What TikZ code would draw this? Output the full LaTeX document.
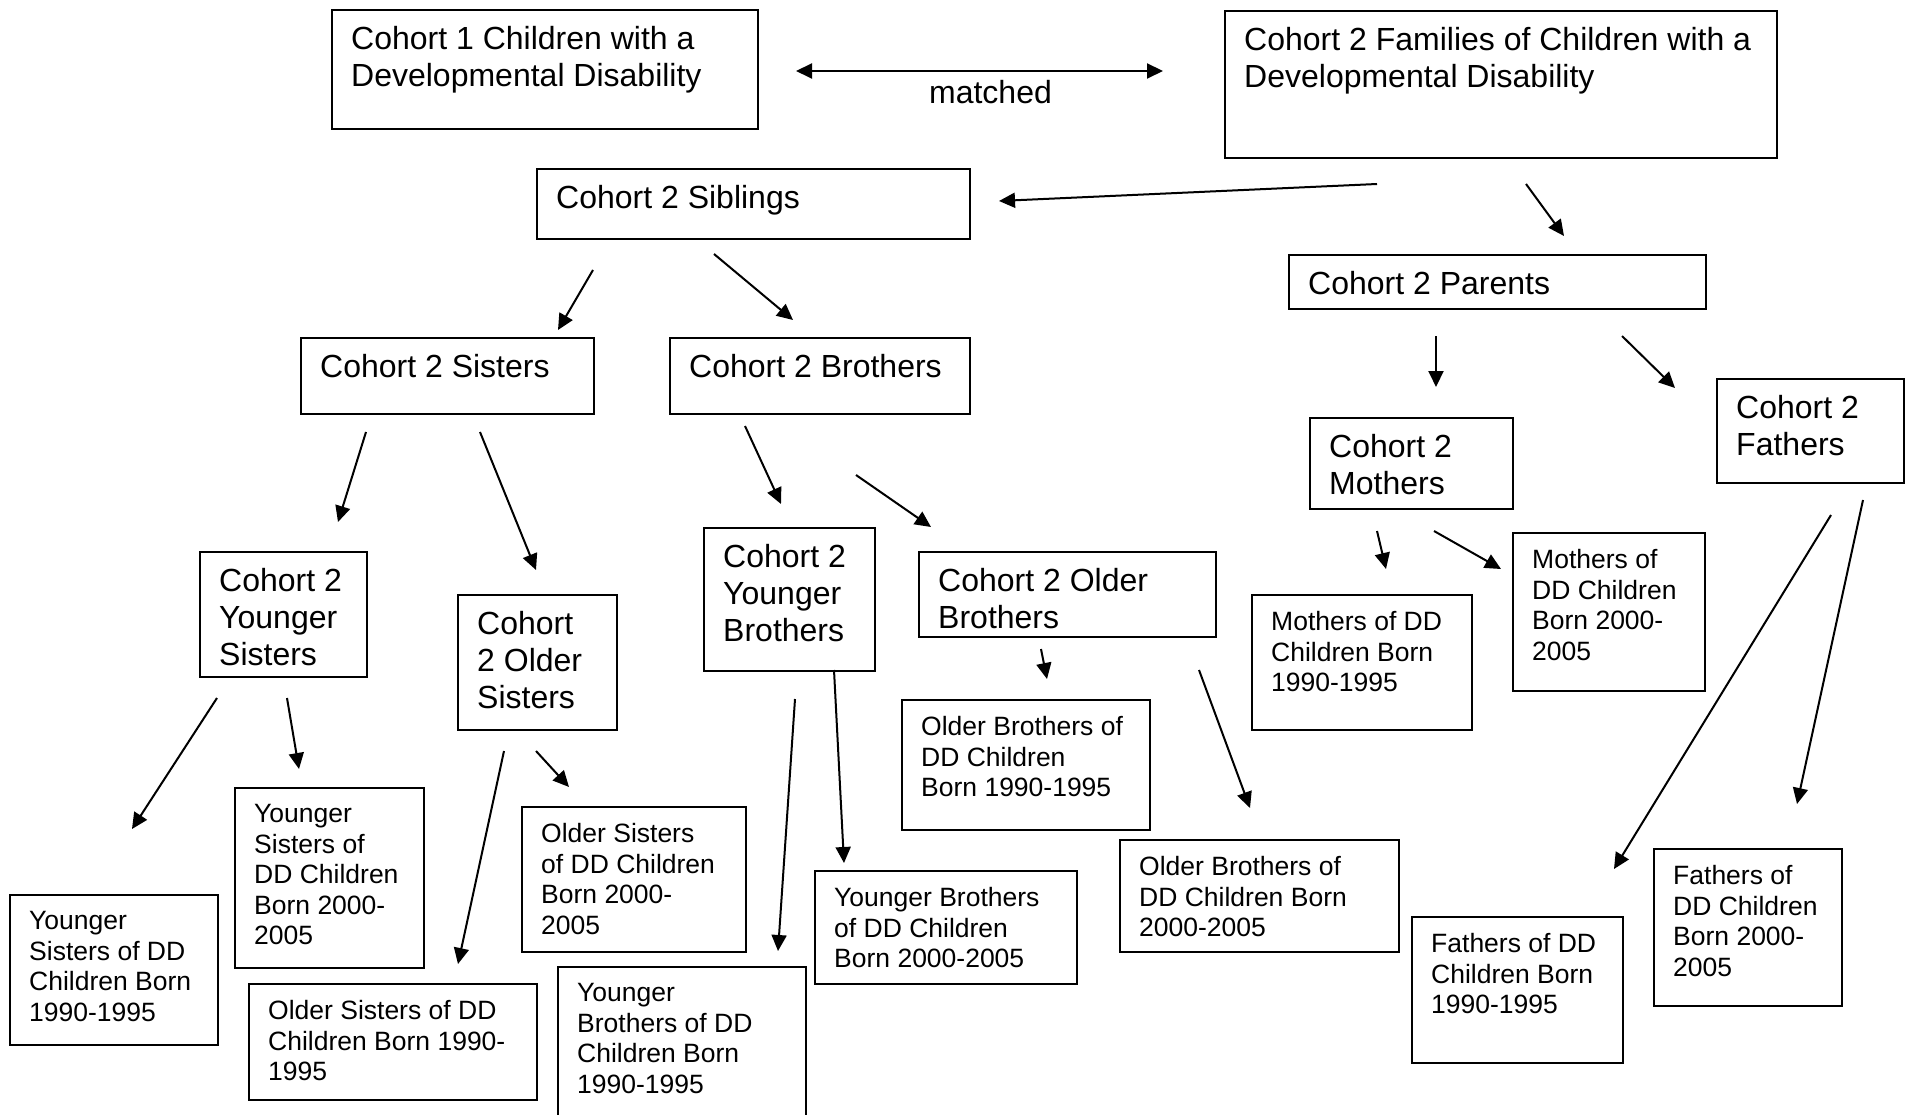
\documentclass[tikz,border=0pt]{standalone}
\usepackage{fontspec}
\setmainfont{Liberation Sans}
\usetikzlibrary{arrows.meta}
\newcommand\boxfont{\fontsize{32}{36.8}\selectfont}
\newcommand\leaffont{\fontsize{26.5}{30.5}\selectfont}
\tikzset{
  cbox/.style={draw, line width=2pt, anchor=north west, inner sep=0pt},
  ctext/.style={anchor=north west, align=left, inner xsep=20pt, inner ysep=17.5pt, font=\boxfont},
  ltext/.style={ctext, font=\leaffont},
  arr/.style={line width=2pt, -{Triangle[length=16pt,width=15pt]}},
}

\begin{document}
\begin{tikzpicture}[x=1pt,y=-1pt]
  \useasboundingbox (0,0) rectangle (1914,1115);

  % top: the two cohorts
  \node[cbox, minimum width=426, minimum height=119, label={[ctext]north west:Cohort 1 Children with a\\Developmental Disability}] (coh1) at (331,9) {};
  \node[cbox, minimum width=552, minimum height=147, label={[ctext]north west:Cohort 2 Families of Children with a\\Developmental Disability}] (fam) at (1224,10) {};
  \coordinate (matchL) at (796,71);
  \coordinate (matchR) at (1163,71);
  \draw[line width=2pt, {Triangle[length=16pt,width=15pt]}-{Triangle[length=16pt,width=15pt]}] (matchL) -- node[below, xshift=11pt, inner sep=8pt, font=\boxfont] (matched) {matched} (matchR);

  % second row
  \node[cbox, minimum width=433, minimum height=70, label={[ctext]north west:Cohort 2 Siblings}] (sib) at (536,168) {};
  \node[cbox, minimum width=417, minimum height=54, label={[ctext]north west:Cohort 2 Parents}] (par) at (1288,254) {};

  % third row
  \node[cbox, minimum width=293, minimum height=76, label={[ctext]north west:Cohort 2 Sisters}] (sis) at (300,337) {};
  \node[cbox, minimum width=300, minimum height=76, label={[ctext]north west:Cohort 2 Brothers}] (bro) at (669,337) {};
  \node[cbox, minimum width=203, minimum height=91, label={[ctext]north west:Cohort 2\\Mothers}] (mot) at (1309,417) {};
  \node[cbox, minimum width=187, minimum height=104, label={[ctext]north west:Cohort 2\\Fathers}] (fat) at (1716,378) {};

  % fourth row
  \node[cbox, minimum width=167, minimum height=125, label={[ctext]north west:Cohort 2\\Younger\\Sisters}] (ysis) at (199,551) {};
  \node[cbox, minimum width=159, minimum height=135, label={[ctext]north west:Cohort\\2 Older\\Sisters}] (osis) at (457,594) {};
  \node[cbox, minimum width=171, minimum height=143, label={[ctext]north west:Cohort 2\\Younger\\Brothers}] (ybro) at (703,527) {};
  \node[cbox, minimum width=297, minimum height=85, label={[ctext]north west:Cohort 2 Older\\Brothers}] (obro) at (918,551) {};

  % leaves by birth years
  \node[cbox, minimum width=208, minimum height=150, label={[ltext]north west:Younger\\Sisters of DD\\Children Born\\1990-1995}] (ysisA) at (9,894) {};
  \node[cbox, minimum width=189, minimum height=180, label={[ltext]north west:Younger\\Sisters of\\DD Children\\Born 2000-\\2005}] (ysisB) at (234,787) {};
  \node[cbox, minimum width=288, minimum height=116, label={[ltext]north west:Older Sisters of DD\\Children Born 1990-\\1995}] (osisA) at (248,983) {};
  \node[cbox, minimum width=224, minimum height=145, label={[ltext]north west:Older Sisters\\of DD Children\\Born 2000-\\2005}] (osisB) at (521,806) {};
  \node[cbox, minimum width=248, minimum height=200, label={[ltext]north west:Younger\\Brothers of DD\\Children Born\\1990-1995}] (ybroA) at (557,966) {};
  \node[cbox, minimum width=262, minimum height=113, label={[ltext]north west:Younger Brothers\\of DD Children\\Born 2000-2005}] (ybroB) at (814,870) {};
  \node[cbox, minimum width=248, minimum height=130, label={[ltext]north west:Older Brothers of\\DD Children\\Born 1990-1995}] (obroA) at (901,699) {};
  \node[cbox, minimum width=279, minimum height=112, label={[ltext]north west:Older Brothers of\\DD Children Born\\2000-2005}] (obroB) at (1119,839) {};
  \node[cbox, minimum width=220, minimum height=135, label={[ltext]north west:Mothers of DD\\Children Born\\1990-1995}] (motA) at (1251,594) {};
  \node[cbox, minimum width=192, minimum height=158, label={[ltext]north west:Mothers of\\DD Children\\Born 2000-\\2005}] (motB) at (1512,532) {};
  \node[cbox, minimum width=211, minimum height=146, label={[ltext]north west:Fathers of DD\\Children Born\\1990-1995}] (fatA) at (1411,916) {};
  \node[cbox, minimum width=188, minimum height=157, label={[ltext]north west:Fathers of\\DD Children\\Born 2000-\\2005}] (fatB) at (1653,848) {};

  % arrow ends (they float between the boxes)
  \foreach \n/\xs/\ys/\xe/\ye in {
      famsib/1377/184/999/201, fampar/1526/184/1564/236,
      sibsis/593/270/558/330, sibbro/714/254/793/320,
      parmot/1436/336/1436/387, parfat/1622/336/1675/388,
      sisy/366/432/338/522, siso/480/432/536/570,
      broy/745/426/781/504, broo/856/475/931/527,
      ysisA/217/698/132/829, ysisB/287/698/299/769,
      osisA/504/751/458/964, osisB/536/751/569/787,
      ybroA/795/699/778/951, ybroB/834/670/844/863,
      obroA/1041/649/1047/679, obroB/1199/670/1250/808,
      motA/1377/531/1386/569, motB/1434/531/1501/569,
      fatA/1831/515/1614/869, fatB/1863/500/1797/804} {
    \coordinate (\n-s) at (\xs,\ys);
    \coordinate (\n-e) at (\xe,\ye);
    \draw[arr] (\n-s) -- (\n-e);
  }
\end{tikzpicture}
\end{document}
